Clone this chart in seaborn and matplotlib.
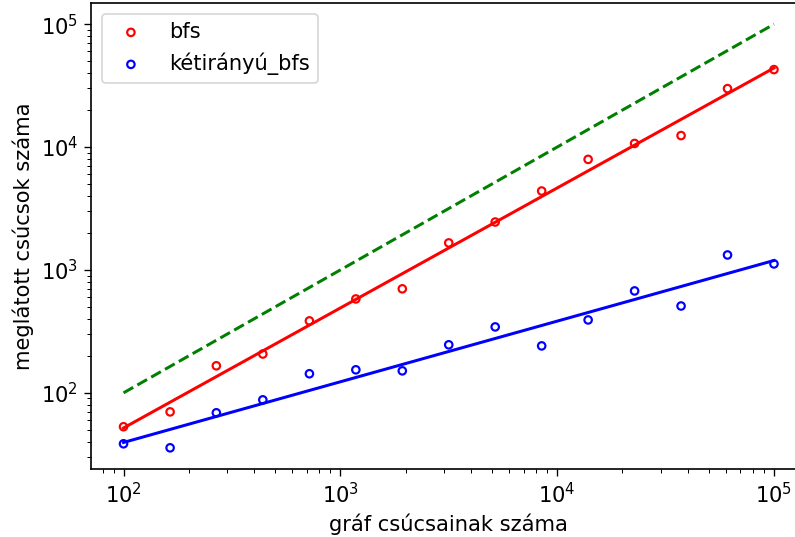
import numpy as np
import pandas as pd
import matplotlib
matplotlib.use("Agg")
import matplotlib.pyplot as plt
import seaborn as sns

# data
n_vertices = [100, 164, 268, 439, 720, 1179, 1931, 3162, 5179, 8483, 13895, 22758, 37276, 61054, 100000]
bfs_seen = [53, 70, 166, 207, 385, 581, 702, 1660, 2455, 4390, 7940, 10700, 12400, 29900, 42700]
bidir_seen = [38.5, 35.7, 68.8, 87.7, 143, 154, 151, 246, 344, 241, 392, 675, 509, 1324, 1120]
ref_x = [100, 100000]
ref_y = [100, 100000]
labels = ["bfs", "kétirányú_bfs"]

df = pd.DataFrame({"n": n_vertices, "bfs": bfs_seen, "bi": bidir_seen})

def loglog_fit(x, y):
    lx, ly = np.log10(x), np.log10(y)
    a, b = np.polyfit(lx, ly, 1)
    return 10 ** (a * lx + b)

df["bfs_fit"] = loglog_fit(df["n"], df["bfs"])
df["bi_fit"] = loglog_fit(df["n"], df["bi"])

plt.rcParams["font.family"] = ["DejaVu Sans"]
plt.rcParams["font.size"] = 12.6
plt.rcParams["xtick.major.size"] = 4.2
plt.rcParams["ytick.major.size"] = 4.2
plt.rcParams["xtick.minor.size"] = 2.4
plt.rcParams["ytick.minor.size"] = 2.4
plt.rcParams["axes.linewidth"] = 1.0
fig = plt.figure(figsize=(795 / 120, 537 / 120), dpi=120)
ax = fig.add_axes([91 / 795, 68 / 537, 715.5 / 795, 466 / 537])

sns.scatterplot(data=df, x="n", y="bfs", ax=ax, marker="o", s=20,
                facecolors="none", edgecolor="red", linewidth=1.3, label=labels[0], zorder=3)
sns.scatterplot(data=df, x="n", y="bi", ax=ax, marker="o", s=20,
                facecolors="none", edgecolor="blue", linewidth=1.3, label=labels[1], zorder=3)
sns.lineplot(data=df, x="n", y="bfs_fit", ax=ax, color="red", linewidth=1.8, legend=False)
sns.lineplot(data=df, x="n", y="bi_fit", ax=ax, color="blue", linewidth=1.8, legend=False)
sns.lineplot(x=ref_x, y=ref_y, ax=ax, color="green", linewidth=1.8, linestyle="--", legend=False)

ax.set_xscale("log")
ax.set_yscale("log")
ax.set_xlabel("gráf csúcsainak száma")
ax.set_ylabel("meglátott csúcsok száma")
ax.legend(loc="upper left")

fig.savefig("out.png", dpi=120)
